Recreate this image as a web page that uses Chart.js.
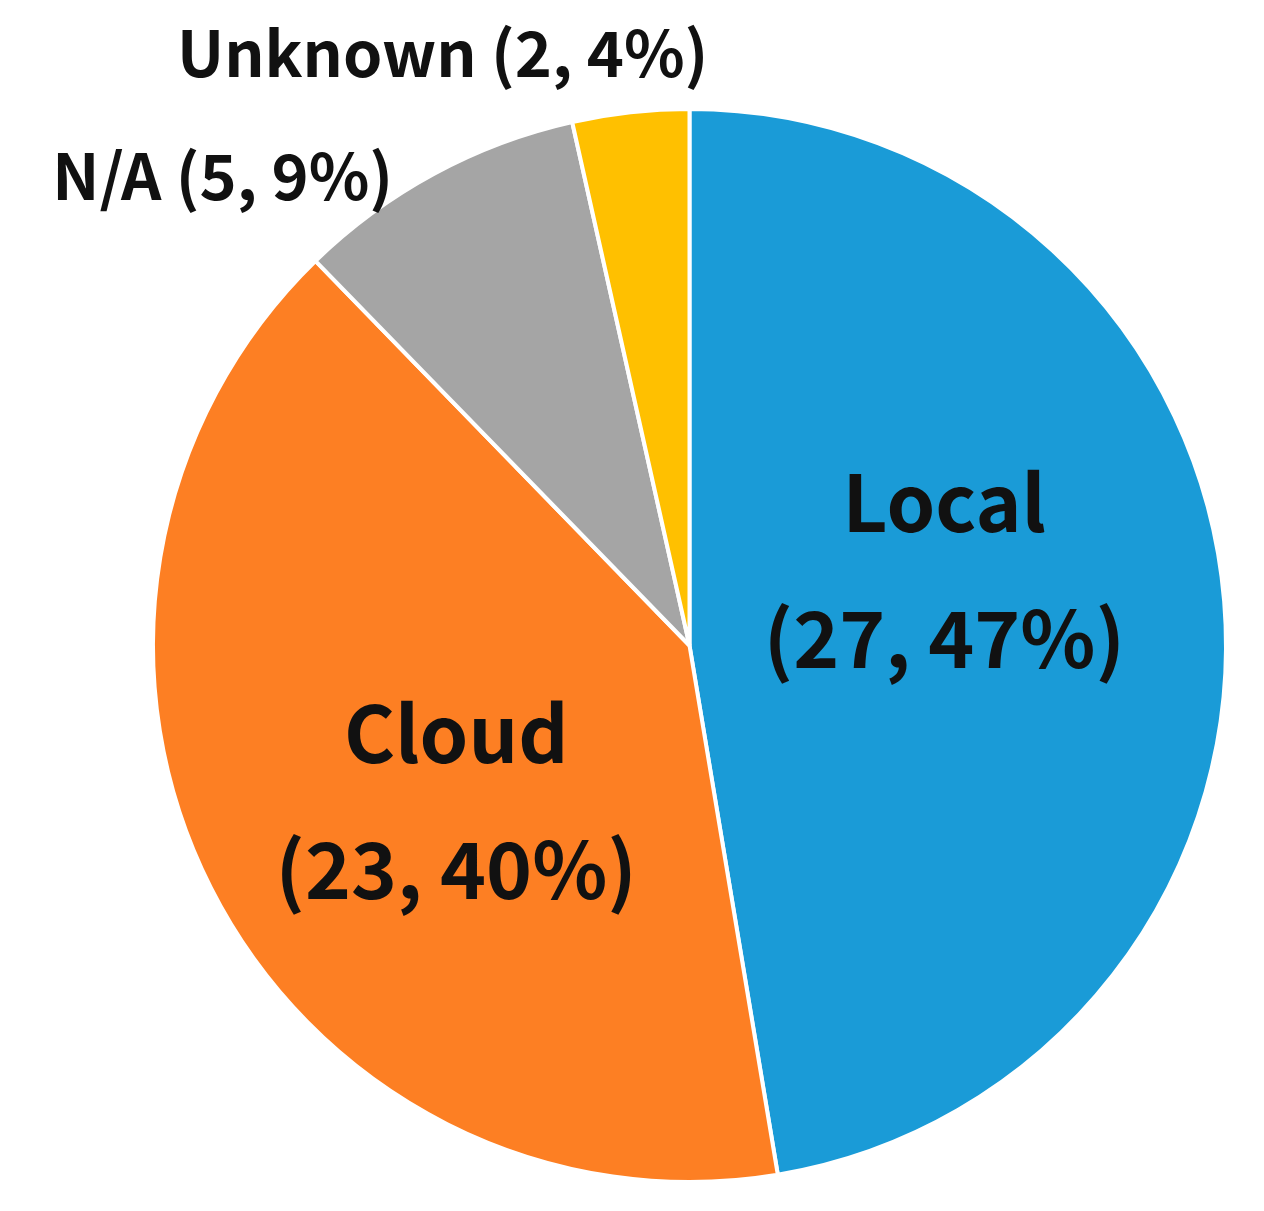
<!DOCTYPE html>
<html>
<head>
<meta charset="utf-8">
<script src="https://cdn.jsdelivr.net/npm/chart.js@4.4.1/dist/chart.umd.min.js"></script>
<style>
  html, body { margin: 0; padding: 0; background: #fff; }
  #wrap { width: 1264px; height: 1211px; }
</style>
</head>
<body>
<div id="wrap"><canvas id="pieChart" width="1264" height="1211"></canvas></div>
<script>
const categories = ['Local', 'Cloud', 'N/A', 'Unknown'];
const counts = [27, 23, 5, 2];
const percents = [47, 40, 9, 4];
const sliceColors = ['#1a9bd7', '#fd7f23', '#a5a5a5', '#ffc000'];

// where each label goes, in units of the pie radius from its centre
const labelSpots = [
    { dx: 0.475, dy: -0.14, inside: true },
    { dx: -0.435, dy: 0.29, inside: true },
    { dx: -0.87, dy: -0.875, inside: false },
    { dx: -0.46, dy: -1.105, inside: false }
];

const FONT = '"Noto Sans CJK KR", "Noto Sans", sans-serif';

const pieLabels = {
    id: 'pieLabels',
    afterDatasetsDraw(chart) {
        const ctx = chart.ctx;
        const arcs = chart.getDatasetMeta(0).data;
        ctx.save();
        ctx.fillStyle = '#111';
        ctx.textAlign = 'center';
        ctx.textBaseline = 'middle';
        arcs.forEach((arc, i) => {
            const { x, y, outerRadius } = arc.getProps(['x', 'y', 'outerRadius'], true);
            const spot = labelSpots[i];
            const cx = x + spot.dx * outerRadius;
            const cy = y + spot.dy * outerRadius;
            const tail = '(' + counts[i] + ', ' + percents[i] + '%)';
            if (spot.inside) {
                ctx.font = 'bold 78px ' + FONT;
                ctx.fillText(categories[i], cx, cy - 68);
                ctx.fillText(tail, cx, cy + 68);
            } else {
                ctx.font = 'bold 63px ' + FONT;
                ctx.fillText(categories[i] + ' ' + tail, cx, cy);
            }
        });
        ctx.restore();
    }
};

new Chart(document.getElementById('pieChart').getContext('2d'), {
    type: 'pie',
    data: {
        labels: categories,
        datasets: [{
            data: counts,
            backgroundColor: sliceColors,
            borderColor: '#ffffff',
            borderWidth: 4
        }]
    },
    options: {
        responsive: false,
        animation: false,
        layout: { padding: { left: 151, right: 36, top: 107, bottom: 27 } },
        plugins: {
            legend: { display: false },
            tooltip: { enabled: false }
        }
    },
    plugins: [pieLabels]
});
</script>
</body>
</html>
